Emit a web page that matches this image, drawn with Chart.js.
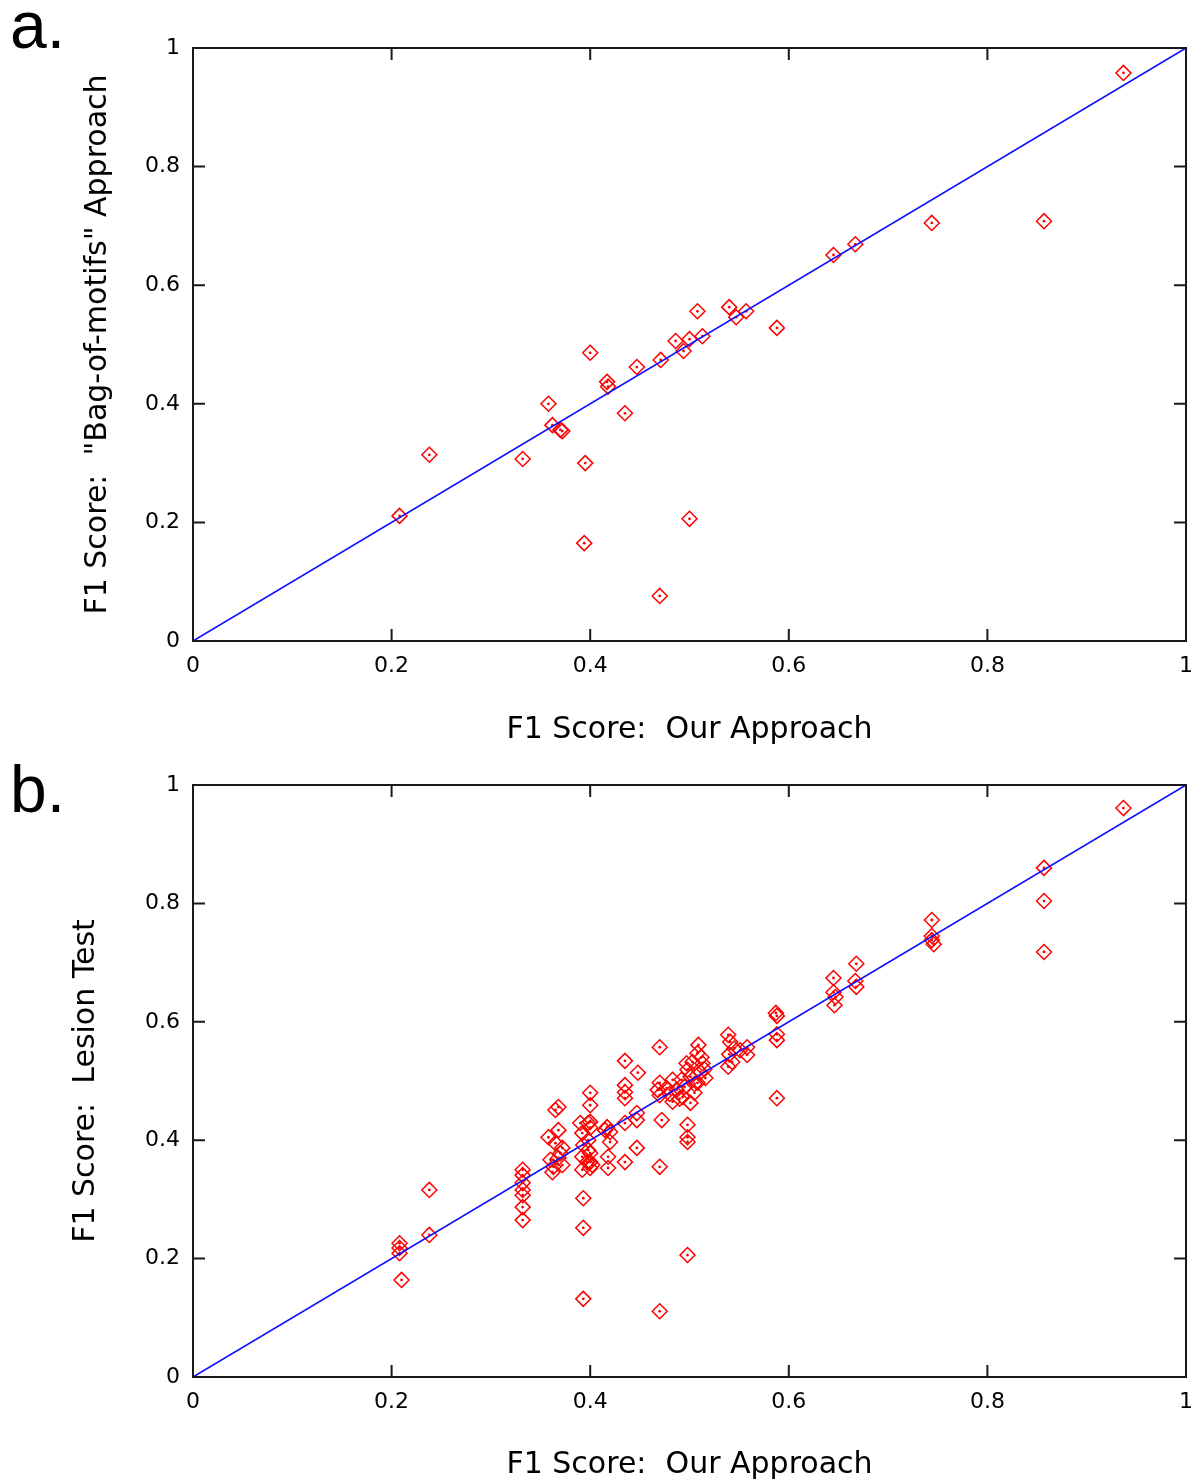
<!DOCTYPE html>
<html>
<head>
<meta charset="utf-8">
<script src="https://cdn.jsdelivr.net/npm/chart.js@4.4.1/dist/chart.umd.min.js"></script>
<style>
  body { margin: 0; background: #fff; }
  #pagina { position: relative; width: 1192px; height: 1483px; overflow: hidden; background: #fff; }
  canvas { position: absolute; left: 0; }
  .letra { position: absolute; left: 10px; font: 66px "Liberation Sans", Arial, sans-serif; line-height: 66px; color: #000; }
</style>
</head>
<body>
<div id="pagina">
  <canvas id="graficoA" width="1195" height="760" style="top:0"></canvas>
  <canvas id="graficoB" width="1195" height="723" style="top:760px"></canvas>
  <div class="letra" style="top:-8px">a.</div>
  <div class="letra" style="top:756px">b.</div>
</div>
<script>
// Painel a: F1 do nosso método vs "Bag-of-motifs"
const ourApproachA = [0.937, 0.744, 0.857, 0.667, 0.645, 0.588, 0.557, 0.547, 0.540, 0.508, 0.513, 0.500, 0.486, 0.494, 0.471, 0.447, 0.400, 0.417, 0.418, 0.435, 0.358, 0.362, 0.370, 0.372, 0.395, 0.332, 0.238, 0.208, 0.500, 0.394, 0.470];
const bagOfMotifs  = [0.958, 0.705, 0.708, 0.669, 0.651, 0.528, 0.556, 0.546, 0.563, 0.556, 0.514, 0.509, 0.506, 0.489, 0.474, 0.462, 0.486, 0.437, 0.429, 0.384, 0.400, 0.364, 0.356, 0.354, 0.300, 0.307, 0.314, 0.211, 0.206, 0.165, 0.076];

// Painel b: F1 do nosso método vs Lesion Test
const ourApproachB = [
  0.937, 0.857, 0.857, 0.857, 0.744, 0.744, 0.744, 0.746, 0.668, 0.667, 0.668, 0.645, 0.645, 0.647, 0.646,
  0.587, 0.588, 0.588, 0.588, 0.588, 0.558, 0.551, 0.558, 0.539, 0.541, 0.543, 0.539, 0.545, 0.540,
  0.509, 0.508, 0.503, 0.513, 0.498, 0.511, 0.516, 0.501, 0.508, 0.492, 0.483, 0.470, 0.468, 0.477, 0.487, 0.493, 0.483, 0.501, 0.470,
  0.495, 0.505, 0.512, 0.497, 0.480, 0.490, 0.505, 0.515,
  0.470, 0.435, 0.448, 0.435, 0.435, 0.435, 0.400, 0.400, 0.368, 0.365,
  0.400, 0.400, 0.417, 0.415, 0.420, 0.435, 0.447, 0.447, 0.472, 0.498, 0.498, 0.498,
  0.447, 0.435, 0.470, 0.420, 0.418, 0.418, 0.400, 0.400, 0.400,
  0.392, 0.398, 0.393, 0.398, 0.392, 0.397, 0.392, 0.402, 0.390, 0.398,
  0.368, 0.358, 0.365, 0.372, 0.370, 0.360, 0.368, 0.363, 0.372, 0.362,
  0.332, 0.332, 0.332, 0.332, 0.332, 0.332, 0.332,
  0.393, 0.393, 0.393, 0.470, 0.498, 0.238, 0.238, 0.208, 0.208, 0.208, 0.210
];
const lesionTest = [
  0.961, 0.860, 0.804, 0.718, 0.772, 0.745, 0.738, 0.731, 0.698, 0.669, 0.659, 0.674, 0.650, 0.642, 0.628,
  0.615, 0.610, 0.579, 0.569, 0.471, 0.557, 0.552, 0.544, 0.578, 0.566, 0.532, 0.524, 0.555, 0.545,
  0.561, 0.547, 0.532, 0.530, 0.519, 0.515, 0.505, 0.507, 0.497, 0.502, 0.502, 0.497, 0.485, 0.488, 0.485, 0.473, 0.465, 0.463, 0.476,
  0.490, 0.495, 0.540, 0.530, 0.478, 0.470, 0.480, 0.520,
  0.557, 0.534, 0.514, 0.493, 0.481, 0.471, 0.480, 0.459, 0.456, 0.451,
  0.431, 0.421, 0.422, 0.417, 0.414, 0.429, 0.446, 0.434, 0.434, 0.426, 0.405, 0.397,
  0.387, 0.363, 0.355, 0.397, 0.372, 0.353, 0.378, 0.363, 0.353,
  0.412, 0.400, 0.392, 0.383, 0.372, 0.363, 0.350, 0.358, 0.429, 0.429,
  0.417, 0.405, 0.395, 0.387, 0.378, 0.367, 0.370, 0.355, 0.358, 0.346,
  0.350, 0.341, 0.328, 0.316, 0.307, 0.287, 0.265,
  0.302, 0.252, 0.132, 0.111, 0.206, 0.316, 0.240, 0.226, 0.218, 0.209, 0.164
];

const tickValues = [0, 0.2, 0.4, 0.6, 0.8, 1];
const tickLabels = ['0', '0.2', '0.4', '0.6', '0.8', '1'];
const diagonal = [0, 1]; // linha y = x

// Moldura preta e marcas de escala para dentro (estilo gnuplot)
const molduraPlugin = {
    id: 'moldura',
    afterDraw(chart) {
        const ctx = chart.ctx;
        const area = chart.chartArea;
        const sx = chart.scales.x;
        const sy = chart.scales.y;
        const tam = 12;
        ctx.save();
        ctx.strokeStyle = '#1a1a1a';
        ctx.lineWidth = 2;
        ctx.beginPath();
        tickValues.forEach(v => {
            const px = sx.getPixelForValue(v);
            ctx.moveTo(px, area.bottom);
            ctx.lineTo(px, area.bottom - tam);
            ctx.moveTo(px, area.top);
            ctx.lineTo(px, area.top + tam);
            const py = sy.getPixelForValue(v);
            ctx.moveTo(area.left, py);
            ctx.lineTo(area.left + tam, py);
            ctx.moveTo(area.right, py);
            ctx.lineTo(area.right - tam, py);
        });
        ctx.stroke();
        ctx.strokeRect(area.left, area.top, area.right - area.left, area.bottom - area.top);
        ctx.restore();
    }
};

function criarGrafico(id, xs, ys, tituloY, cfg) {
    const pontos = xs.map((x, i) => ({ x: x, y: ys[i] }));
    const linha = diagonal.map(v => ({ x: v, y: v }));
    const ctx = document.getElementById(id).getContext('2d');
    const fonteTicks = { family: 'DejaVu Sans', size: 22 };
    const fonteTitulo = { family: 'DejaVu Sans', size: 30 };

    return new Chart(ctx, {
        type: 'scatter',
        data: {
            datasets: [
                {
                    type: 'line',
                    data: linha,
                    borderColor: '#1010ff',
                    borderWidth: 1.6,
                    pointRadius: 0,
                    fill: false
                },
                {
                    data: pontos,
                    pointStyle: 'rectRot',
                    pointRadius: 7.5,
                    borderColor: '#ff0000',
                    borderWidth: 1.5,
                    backgroundColor: 'rgba(0,0,0,0)'
                },
                {
                    data: pontos,
                    pointStyle: 'circle',
                    pointRadius: 1.4,
                    borderWidth: 0,
                    backgroundColor: '#ff0000'
                }
            ]
        },
        options: {
            responsive: false,
            animation: false,
            layout: { padding: { top: cfg.topo, right: 3, left: 0, bottom: 0 } },
            plugins: { legend: { display: false }, tooltip: { enabled: false } },
            scales: {
                x: {
                    type: 'linear',
                    min: 0, max: 1,
                    afterBuildTicks: s => { s.ticks = tickValues.map(v => ({ value: v })); },
                    ticks: {
                        callback: (v, i) => tickLabels[i],
                        font: fonteTicks, color: '#000', padding: 12, maxRotation: 0
                    },
                    grid: { display: false, drawTicks: false },
                    border: { display: false },
                    afterFit: s => {
                        s.height = cfg.alturaX;
                        s.paddingLeft = 0;
                        s.paddingRight = 0;
                    },
                    title: {
                        display: true, text: 'F1 Score:  Our Approach',
                        font: fonteTitulo, color: '#000',
                        padding: { top: 0, bottom: cfg.padTituloX }
                    }
                },
                y: {
                    type: 'linear',
                    min: 0, max: 1,
                    afterBuildTicks: s => { s.ticks = tickValues.map(v => ({ value: v })); },
                    ticks: {
                        callback: (v, i) => tickLabels[i],
                        font: fonteTicks, color: '#000', padding: 13
                    },
                    grid: { display: false, drawTicks: false },
                    border: { display: false },
                    afterFit: s => {
                        s.width = 193;
                        s.paddingTop = 0;
                        s.paddingBottom = 0;
                    },
                    title: {
                        display: true, text: tituloY,
                        font: fonteTitulo, color: '#000',
                        padding: { top: cfg.padTituloY, bottom: 0 }
                    }
                }
            }
        },
        plugins: [molduraPlugin]
    });
}

criarGrafico('graficoA', ourApproachA, bagOfMotifs, 'F1 Score:  "Bag-of-motifs" Approach',
    { topo: 48, alturaX: 119, padTituloX: 12, padTituloY: 80 });
criarGrafico('graficoB', ourApproachB, lesionTest, 'F1 Score:  Lesion Test',
    { topo: 25, alturaX: 106, padTituloX: 0, padTituloY: 68 });
</script>
</body>
</html>
